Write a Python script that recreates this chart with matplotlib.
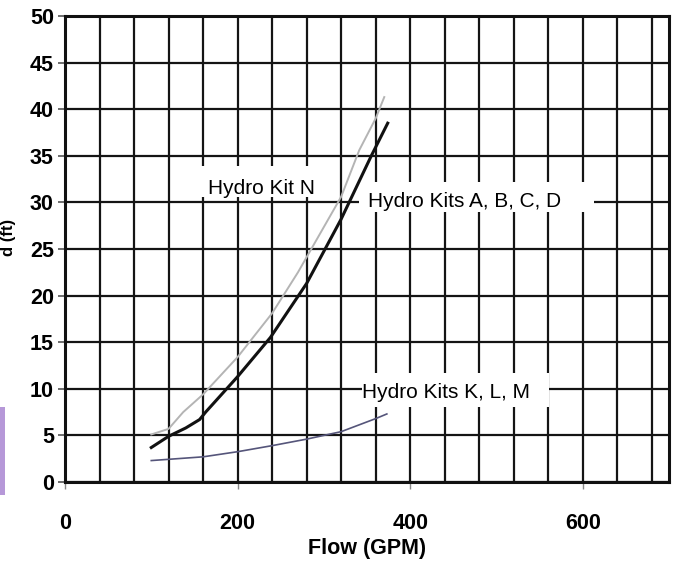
import matplotlib
matplotlib.use("Agg")
import matplotlib.pyplot as plt
from matplotlib.patches import Rectangle
import numpy as np

plt.rcParams['font.family'] = ['Liberation Sans', 'DejaVu Sans']

# Pump head curves: flow (GPM) vs head (ft)
flow_abcd = [100, 120, 140, 156, 163, 200, 238, 280, 320, 355, 374]
head_abcd = [3.7, 4.9, 5.8, 6.7, 7.5, 11.3, 15.5, 21.3, 28.2, 35.0, 38.5]

flow_n = [100, 120, 137, 160, 200, 240, 270, 320, 341, 360, 370]
head_n = [5.1, 5.7, 7.5, 9.4, 13.4, 18.1, 22.5, 30.6, 35.6, 39.0, 41.3]

flow_klm = [100, 160, 200, 240, 280, 320, 360, 373]
head_klm = [2.3, 2.7, 3.25, 3.9, 4.6, 5.4, 6.8, 7.3]

x_ticks = [0, 200, 400, 600]
y_ticks = list(range(0, 55, 5))

label_n = "Hydro Kit N"
label_abcd = "Hydro Kits A, B, C, D"
label_klm = "Hydro Kits K, L, M"

fig = plt.figure(figsize=(6.74, 5.64), dpi=100)
ax = fig.add_axes([65 / 674, 1 - 482 / 564, (669 - 65) / 674, (482 - 16) / 564])

ax.set_xlim(0, 700)
ax.set_ylim(0, 50)

# grid: every 40 GPM and every 5 ft
ax.set_xticks(x_ticks)
ax.set_xticks(np.arange(40, 700, 40), minor=True)
ax.set_yticks(y_ticks)
ax.grid(True, which='both', color='#141414', linewidth=1.6)
ax.set_axisbelow(True)
ax.tick_params(axis='x', which='minor', length=0)
ax.tick_params(axis='x', which='major', length=5, width=1.0, color='#888888',
               pad=17, labelsize=15.5)
ax.tick_params(axis='y', which='major', length=5, width=1.2, color='#555555',
               pad=3, labelsize=15.5)
for lab in ax.get_xticklabels() + ax.get_yticklabels():
    lab.set_fontweight('bold')
for s in ax.spines.values():
    s.set_linewidth(2.2)
    s.set_color('#111111')

ax.set_xlabel("Flow (GPM)", fontsize=15.5, fontweight='bold', labelpad=3)

# white boxes behind the curve labels
ax.add_patch(Rectangle((157, 30.6), 150, 3.3, facecolor='white', edgecolor='none', zorder=1.5))
ax.add_patch(Rectangle((341, 29.0), 272, 3.2, facecolor='white', edgecolor='none', zorder=1.5))
ax.add_patch(Rectangle((344, 8.0), 217, 3.7, facecolor='white', edgecolor='none', zorder=1.5))

ax.plot(flow_n, head_n, color='#b4b4b4', linewidth=1.4, zorder=3)
ax.plot(flow_klm, head_klm, color='#55557a', linewidth=1.2, zorder=3)
ax.plot(flow_abcd, head_abcd, color='#111111', linewidth=2.2, zorder=4)

ax.text(165.5, 30.9, label_n, fontsize=15, va='baseline', ha='left', zorder=5)
ax.text(350.6, 29.55, label_abcd, fontsize=15, va='baseline', ha='left', zorder=5)
ax.text(344.5, 8.98, label_klm, fontsize=15, va='baseline', ha='left', zorder=5)

fig.text(9 / 674, 1 - 237 / 564, "d (ft)", rotation=90, fontsize=12,
         fontweight='bold', ha='center', va='center')

fig.patches.append(Rectangle((0, 1 - 495 / 564), 5 / 674, 88 / 564,
                             transform=fig.transFigure, facecolor='#b698d8',
                             edgecolor='none'))

fig.savefig("out.png", dpi=100)
